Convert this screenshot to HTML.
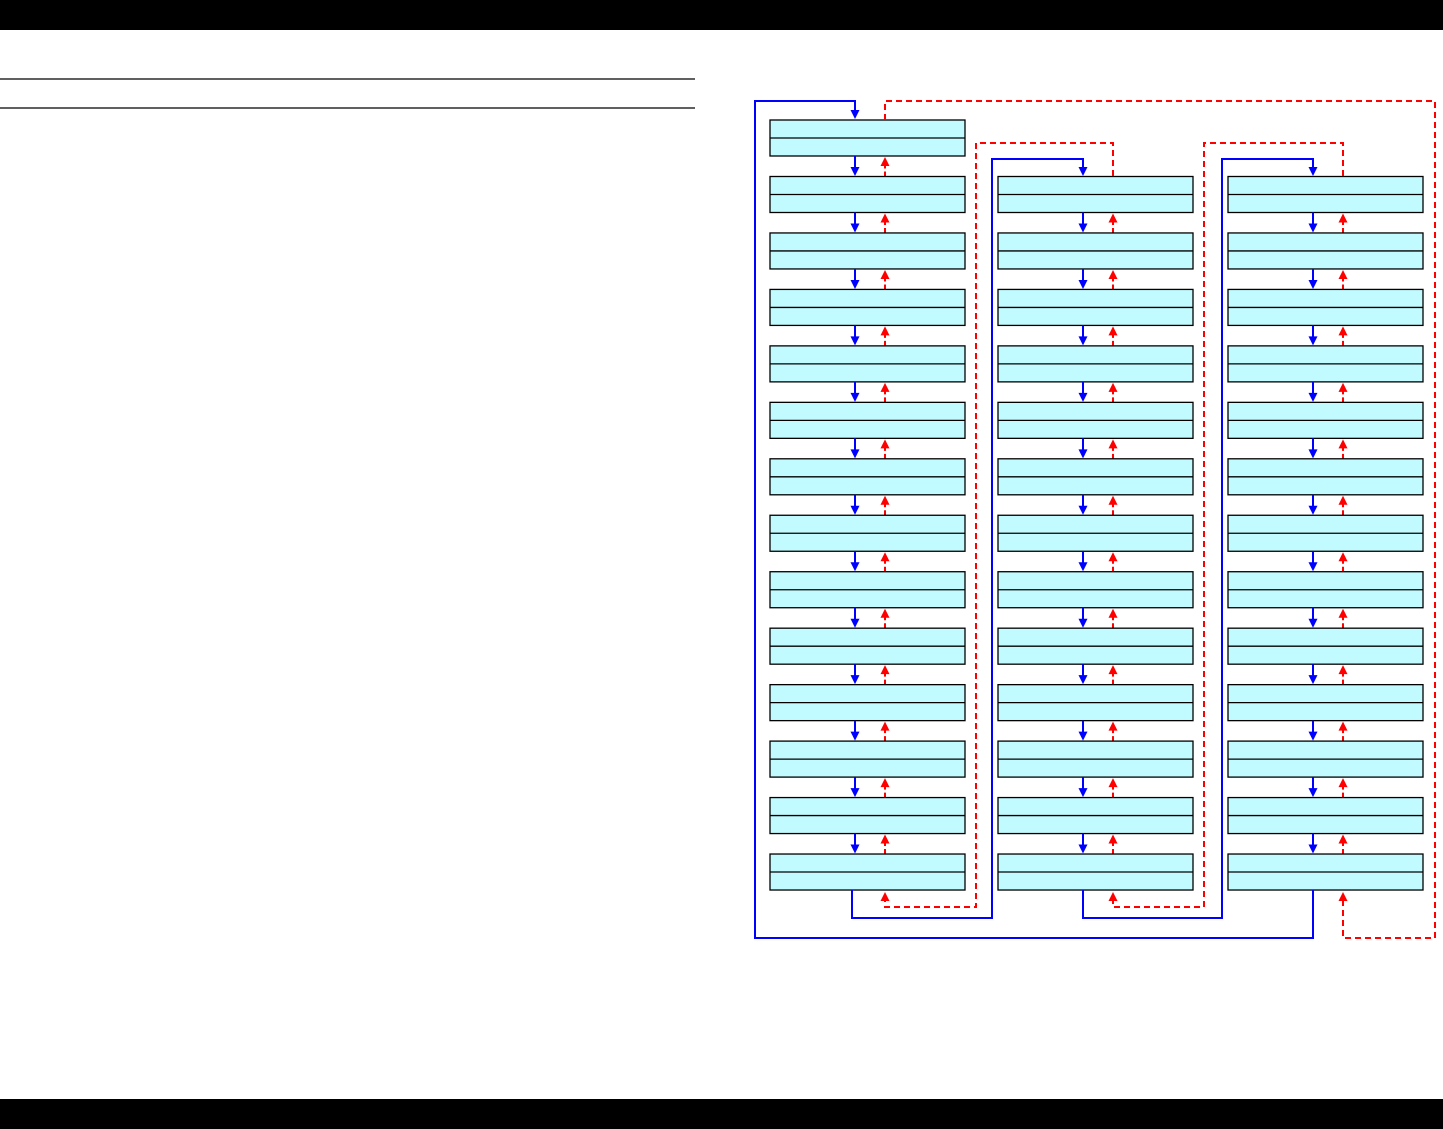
<!DOCTYPE html>
<html><head><meta charset="utf-8"><style>html,body{margin:0;padding:0;background:#fff}svg{display:block}</style></head>
<body>
<svg width="1443" height="1129" xmlns="http://www.w3.org/2000/svg" xmlns:xlink="http://www.w3.org/1999/xlink">
<defs>
<marker id="mb" markerWidth="10" markerHeight="10" refX="5" refY="8" orient="auto" markerUnits="userSpaceOnUse" viewBox="0 0 10 10"><path d="M0,0 L10,0 L5,9 Z" fill="#0000ff" transform="rotate(-90 5 5)"/></marker>
<g id="bx"><rect x="0" y="0" width="195" height="36" fill="#c2fbff" stroke="#000" stroke-width="1.3"/><line x1="0" y1="18" x2="195" y2="18" stroke="#000" stroke-width="1.3"/></g>
<g id="ar">
<line x1="85" y1="36" x2="85" y2="48" stroke="#0000ff" stroke-width="2"/>
<path d="M80.5,47 L89.5,47 L85,56 Z" fill="#0000ff"/>
<line x1="115" y1="56.5" x2="115" y2="45" stroke="#ff0000" stroke-width="2" stroke-dasharray="5,3"/>
<path d="M110.5,46 L119.5,46 L115,37 Z" fill="#ff0000"/>
</g>
<g id="c1">
<use xlink:href="#bx" y="0"/><use xlink:href="#ar" y="0"/>
<use xlink:href="#bx" y="56.46"/><use xlink:href="#ar" y="56.46"/>
<use xlink:href="#bx" y="112.92"/><use xlink:href="#ar" y="112.92"/>
<use xlink:href="#bx" y="169.38"/><use xlink:href="#ar" y="169.38"/>
<use xlink:href="#bx" y="225.84"/><use xlink:href="#ar" y="225.84"/>
<use xlink:href="#bx" y="282.3"/><use xlink:href="#ar" y="282.3"/>
<use xlink:href="#bx" y="338.76"/><use xlink:href="#ar" y="338.76"/>
<use xlink:href="#bx" y="395.22"/><use xlink:href="#ar" y="395.22"/>
<use xlink:href="#bx" y="451.68"/><use xlink:href="#ar" y="451.68"/>
<use xlink:href="#bx" y="508.14"/><use xlink:href="#ar" y="508.14"/>
<use xlink:href="#bx" y="564.6"/><use xlink:href="#ar" y="564.6"/>
<use xlink:href="#bx" y="621.06"/><use xlink:href="#ar" y="621.06"/>
<use xlink:href="#bx" y="677.52"/>
</g>
</defs>
<rect x="0" y="0" width="1443" height="30" fill="#000"/>
<rect x="0" y="1099" width="1443" height="30" fill="#000"/>
<line x1="0" y1="79" x2="695" y2="79" stroke="#000" stroke-width="1.2"/>
<line x1="0" y1="108" x2="695" y2="108" stroke="#000" stroke-width="1.2"/>

<!-- col1 first box -->
<use xlink:href="#bx" x="770" y="120"/>
<use xlink:href="#ar" x="770" y="120"/>
<use xlink:href="#c1" x="770" y="176.5"/>
<use xlink:href="#c1" x="998" y="176.5"/>
<use xlink:href="#c1" x="1228" y="176.5"/>

<!-- blue loops -->
<g fill="none" stroke="#0000ff" stroke-width="2">
<polyline points="1313,890 1313,938 755,938 755,101 855,101 855,111"/>
<polyline points="852,890 852,918 992,918 992,159 1083,159 1083,168"/>
<polyline points="1083,890 1083,918 1222,918 1222,159 1313,159 1313,168"/>
</g>
<g fill="#0000ff">
<path d="M850.5,110 L859.5,110 L855,119 Z"/>
<path d="M1078.5,167 L1087.5,167 L1083,176 Z"/>
<path d="M1308.5,167 L1317.5,167 L1313,176 Z"/>
</g>
<!-- red dashed loops -->
<g fill="none" stroke="#ff0000" stroke-width="2" stroke-dasharray="6,4">
<polyline points="885,120 885,101 1435,101 1435,938 1343,938 1343,900"/>
<polyline points="1113,176 1113,143 976,143 976,907 885,907 885,900"/>
<polyline points="1343,176 1343,143 1204,143 1204,907 1113,907 1113,900"/>
</g>
<g fill="#ff0000">
<path d="M880.5,901 L889.5,901 L885,892 Z"/>
<path d="M1108.5,901 L1117.5,901 L1113,892 Z"/>
<path d="M1338.5,901 L1347.5,901 L1343,892 Z"/>
</g>
</svg>
</body></html>
